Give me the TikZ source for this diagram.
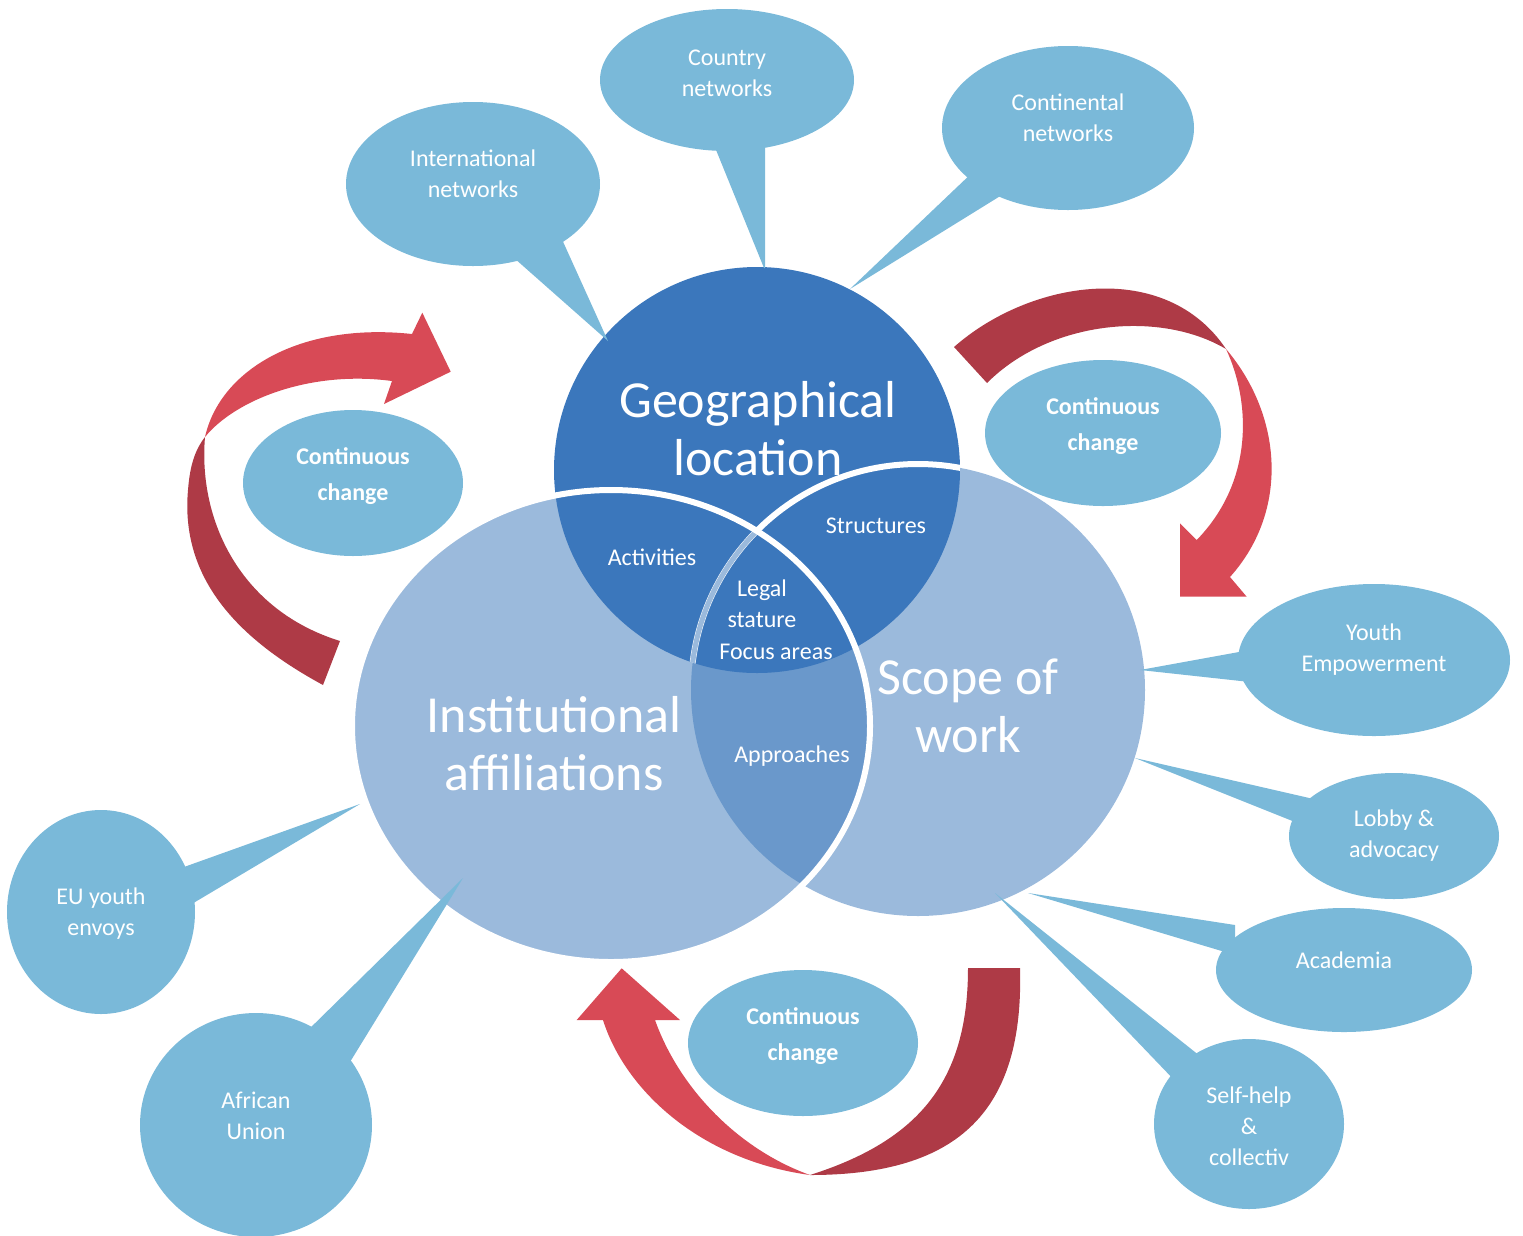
\documentclass[tikz,border=0pt]{standalone}
\usepackage{fontspec}
\setmainfont{Carlito}
\usetikzlibrary{shapes.geometric}
\definecolor{geoblue}{RGB}{59,119,188}
\definecolor{lightblue}{RGB}{155,186,220}
\definecolor{midblue}{RGB}{106,152,203}
\definecolor{callblue}{RGB}{122,185,217}
\definecolor{redlight}{RGB}{216,74,86}
\definecolor{reddark}{RGB}{174,58,70}
\begin{document}
\begin{tikzpicture}[x=1pt,y=-1pt,
  callout/.style={ellipse, fill=callblue, inner sep=0pt},
  tail/.style={fill=callblue},
  small/.style={text=white, font=\fontsize{24}{31}\selectfont, align=center, inner sep=0pt},
  big/.style={text=white, font=\fontsize{52}{58}\selectfont, align=center, inner sep=0pt},
  cctext/.style={text=white, font=\bfseries\fontsize{24}{36}\selectfont, align=center, inner sep=0pt},
  edge/.style={white, line width=6pt}]
\useasboundingbox (0,0) rectangle (1523,1235);

% ---------- curved arrows ----------
% left arrow
\fill[reddark] (323,685) .. controls (240,640) and (180,580) .. (188,490)
  .. controls (190,465) and (195,450) .. (205,437)
  .. controls (198,520) and (240,610) .. (340,641) -- cycle;
\fill[redlight] (205,437) .. controls (220,370) and (300,322) .. (412,334)
  -- (422.3,312.7) -- (450.7,371.7) -- (384,404) -- (392,381)
  .. controls (310,370) and (235,400) .. (205,437) -- cycle;
% right arrow
\fill[reddark] (954,347) .. controls (1030,280) and (1165,258) .. (1226,349)
  .. controls (1160,310) and (1050,320) .. (987,383) -- cycle;
\fill[redlight] (1226,349) .. controls (1282,415) and (1290,510) .. (1230,577)
  -- (1246.7,596.7) -- (1180,596.7) -- (1180,523.3) -- (1196.7,540)
  .. controls (1255,480) and (1250,400) .. (1226,349) -- cycle;
% bottom arrow
\fill[reddark] (1020,968) .. controls (1024,1110) and (960,1175) .. (810,1175)
  .. controls (920,1140) and (968,1080) .. (968,968) -- cycle;
\fill[redlight] (810,1175) .. controls (700,1160) and (625,1090) .. (603,1020)
  -- (576.7,1020) -- (621.7,968.3) -- (680,1020) -- (655,1020)
  .. controls (680,1090) and (740,1150) .. (810,1175) -- cycle;

% ---------- continuous change ellipses ----------
\node[callout, minimum width=220pt, minimum height=146pt] (ccL) at (353,483) {};
\node[callout, minimum width=236pt, minimum height=146pt] (ccR) at (1103,433) {};
\node[callout, minimum width=230pt, minimum height=146pt] (ccB) at (803,1043) {};
\node[cctext] (ccLt) at (353,476) {Continuous\\change};
\node[cctext] (ccRt) at (1103,426) {Continuous\\change};
\node[cctext] (ccBt) at (803,1036) {Continuous\\change};

% ---------- Venn ----------
\coordinate (geoC) at (757,470);
\coordinate (instC) at (611,726);
\coordinate (scopeC) at (918,690);
\fill[lightblue] (scopeC) ellipse (227pt and 226pt);
\fill[lightblue] (instC) ellipse (259pt and 236pt);
\begin{scope}
  \clip (instC) ellipse (259pt and 236pt);
  \fill[midblue] (scopeC) ellipse (227pt and 226pt);
\end{scope}
\fill[geoblue] (geoC) circle (203pt);
\begin{scope}
  \clip (geoC) circle (203pt);
  \draw[edge] (scopeC) ellipse (227pt and 226pt);
  \clip (instC) ellipse (259pt and 236pt);
  \draw[lightblue, line width=5pt] (scopeC) ellipse (227pt and 226pt);
\end{scope}
\draw[edge] (instC) ellipse (259pt and 236pt);

\node[big] (geoT) at (758,429) {Geographical\\location};
\node[big] (instT) at (554,744) {Institutional\\affiliations};
\node[big] (scopeT) at (968,706) {Scope of\\work};
\node[small] (act) at (652,557) {Activities};
\node[small] (str) at (876,526) {Structures};
\node[small] (leg) at (762,604) {Legal\\stature};
\node[small] (foc) at (776,652) {Focus areas};
\node[small] (app) at (792,756) {Approaches};

% ---------- callouts ----------
\node[callout, minimum width=254pt, minimum height=164pt] (intl) at (473,184) {};
\coordinate (intlTip) at (608,341);
\fill[tail] (505,250) -- (intlTip) -- (560,235) -- cycle;

\node[callout, minimum width=254pt, minimum height=142pt] (ctry) at (727,80) {};
\coordinate (ctryTip) at (764,268);
\fill[tail] (712,140) -- (ctryTip) -- (765,268) -- (765,140) -- cycle;

\node[callout, minimum width=252pt, minimum height=164pt] (cont) at (1068,128) {};
\coordinate (contTip) at (850,289);
\fill[tail] (975,170) -- (contTip) -- (1010,190) -- cycle;

\node[callout, minimum width=272pt, minimum height=152pt] (youth) at (1374,660) {};
\coordinate (youthTip) at (1140,670);
\fill[tail] (1250,650) -- (youthTip) -- (1250,682) -- cycle;

\node[callout, minimum width=210pt, minimum height=126pt] (lobby) at (1394,836) {};
\coordinate (lobbyTip) at (1135,758);
\fill[tail] (1318,800) -- (lobbyTip) -- (1300,824) -- cycle;

\node[callout, minimum width=256pt, minimum height=124pt] (acad) at (1344,970) {};
\coordinate (acadTip) at (1028,893);
\fill[tail] (1235,925) -- (acadTip) -- (1235,955) -- cycle;

\node[callout, minimum width=190pt, minimum height=170pt] (self) at (1249,1124) {};
\coordinate (selfTip) at (995,893);
\fill[tail] (1205,1060) -- (selfTip) -- (1178,1084) -- cycle;

\node[callout, minimum width=232pt, minimum height=224pt] (afr) at (256,1125) {};
\coordinate (afrTip) at (463,878);
\fill[tail] (303,1035) -- (afrTip) -- (350,1062) -- cycle;

\node[callout, minimum width=188pt, minimum height=204pt] (eu) at (101,912) {};
\coordinate (euTip) at (360,804);
\fill[tail] (170,872) -- (euTip) -- (185,908) -- cycle;

\node[small] (intlT) at (473,174) {International\\networks};
\node[small] (ctryT) at (727,73) {Country\\networks};
\node[small] (contT) at (1068,118) {Continental\\networks};
\node[small] (youthT) at (1374,650) {Youth\\Empowerment};
\node[small] (lobbyT) at (1394,836) {Lobby \&\\advocacy};
\node[small] (acadT) at (1344,960) {Academia};
\node[small] (selfT) at (1249,1126) {Self-help\\\&\\collectiv};
\node[small] (afrT) at (256,1116) {African\\Union};
\node[small] (euT) at (101,914) {EU youth\\envoys};
\end{tikzpicture}
\end{document}
